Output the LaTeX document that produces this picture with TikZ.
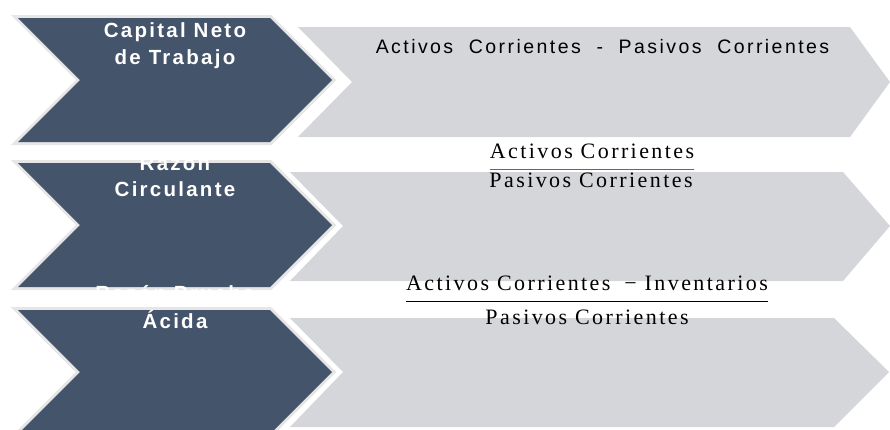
\documentclass[tikz,border=0pt]{standalone}
\usepackage{fontspec}
\setmainfont{Liberation Sans}
\newfontfamily\namefont[LetterSpace=11]{Liberation Sans}
\newfontfamily\formulafont[LetterSpace=12.5,WordSpace=2]{Liberation Sans}
\newfontfamily\ratiofont[LetterSpace=11]{Liberation Serif}
\usetikzlibrary{positioning}
\definecolor{slateblue}{RGB}{68,84,106}
\definecolor{chevgray}{RGB}{213,214,218}
\definecolor{rimgray}{RGB}{230,230,230}
\tikzstyle{graychev} = [fill=chevgray]
\tikzstyle{darkrim} = [draw=rimgray, line width=6pt, miter limit=20]
\tikzstyle{darkchev} = [fill=slateblue]
\tikzstyle{rationame} = [text=white, font=\namefont\bfseries\fontsize{20.5}{26.5}\selectfont,
    align=center, inner sep=0pt, anchor=north]
\tikzstyle{formula} = [font=\formulafont\fontsize{19.5}{23}\selectfont,
    inner sep=0pt, anchor=base]
\tikzstyle{fracpart} = [font=\ratiofont\fontsize{22}{26}\selectfont,
    inner sep=0pt, anchor=base]
\tikzstyle{fracbar} = [draw, line width=0.9pt]

\begin{document}
\begin{tikzpicture}[x=1pt, y=-1pt]
  \clip (0,0) rectangle (890,429);
  % Gray chevrons
  \path [graychev] (298,27) -- (850,27) -- (890,82) -- (850,137) -- (298,137) -- (352,82) -- cycle;
  \path [graychev] (290,172) -- (843,172) -- (890,226) -- (843,281) -- (290,281) -- (343,226) -- cycle;
  \path [graychev] (290,318) -- (834,318) -- (889,372) -- (834,427) -- (290,427) -- (343,372) -- cycle;

  % Dark chevrons
  \path [darkrim] (18,18) -- (270,18) -- (332,80) -- (270,142) -- (18,142) -- (80,80) -- cycle;
  \path [darkchev] (18,18) -- (270,18) -- (332,80) -- (270,142) -- (18,142) -- (80,80) -- cycle;
  \path [darkrim] (18,163) -- (270,163) -- (332,225) -- (270,287) -- (18,287) -- (80,225) -- cycle;
  \path [darkchev] (18,163) -- (270,163) -- (332,225) -- (270,287) -- (18,287) -- (80,225) -- cycle;
  \path [darkrim] (18,310) -- (270,310) -- (332,372) -- (270,434) -- (18,434) -- (80,372) -- cycle;
  \path [darkchev] (18,310) -- (270,310) -- (332,372) -- (270,434) -- (18,434) -- (80,372) -- cycle;

  % Place nodes
  \node [rationame] (capname) at (175,22.5) {Capital Neto\\de Trabajo};
  \node [rationame] (curname) at (175,155) {Razón\\Circulante};
  \node [rationame] (acidname) at (175,285.5) {Razón Prueba\\[1.5pt]Ácida};

  \node [formula] (capformula) at (602.5,53.3) {Activos Corrientes - Pasivos Corrientes};

  \node [fracpart] (curnum) at (592,158) {Activos Corrientes};
  \node [fracpart] (curden) at (591,187) {Pasivos Corrientes};
  \node [fracpart] (acidnum) at (587,290) {Activos Corrientes\hspace{6pt} − Inventarios};
  \node [fracpart] (acidden) at (587,324) {Pasivos Corrientes};

  % fraction bars
  \path [fracbar, draw=black!60, line width=1.5pt] ([yshift=-11pt]curnum.south west) -- ([yshift=-11pt]curnum.south east);
  \path [fracbar] ([yshift=-11pt]acidnum.south west) -- ([yshift=-11pt]acidnum.south east);
\end{tikzpicture}
\end{document}
